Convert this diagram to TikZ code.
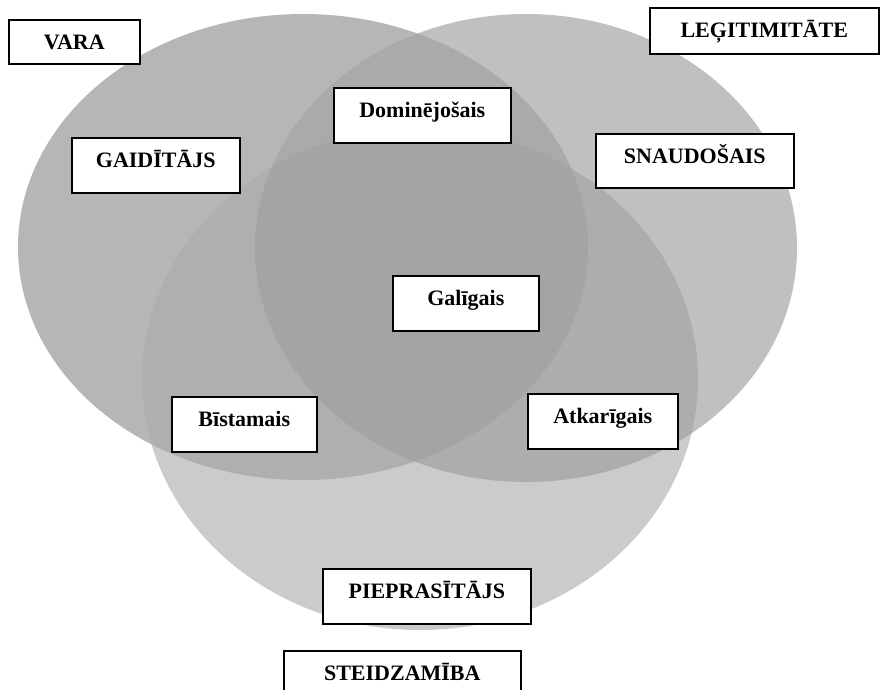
\documentclass[tikz,border=0pt]{standalone}
\usepackage{fontspec}
\setmainfont{Liberation Serif}
\definecolor{cA}{RGB}{182,182,182}
\definecolor{cB}{RGB}{192,192,192}
\definecolor{cC}{RGB}{203,203,203}
\definecolor{cAB}{RGB}{170,170,170}
\definecolor{cAC}{RGB}{175,175,175}
\definecolor{cBC}{RGB}{173,173,173}
\definecolor{cABC}{RGB}{164,164,164}
\begin{document}
\begin{tikzpicture}[x=1pt,y=-1pt,
  lbl/.style={draw=black, line width=1.6pt, fill=white, inner sep=0pt, anchor=north west,
    text height=29.5pt, font=\bfseries\fontsize{22}{26}\selectfont}]
\useasboundingbox (0,0) rectangle (881,689);
\def\ellA{(303,247) ellipse [x radius=285pt, y radius=233pt]}
\def\ellB{(526,248) ellipse [x radius=271pt, y radius=234pt]}
\def\ellC{(420,379) ellipse [x radius=278pt, y radius=251pt]}
% single regions
\fill[cA] \ellA;
\fill[cB] \ellB;
\fill[cC] \ellC;
% pair overlaps
\begin{scope}\clip \ellA; \fill[cAB] \ellB; \end{scope}
\begin{scope}\clip \ellA; \fill[cAC] \ellC; \end{scope}
\begin{scope}\clip \ellB; \fill[cBC] \ellC; \end{scope}
% triple overlap
\begin{scope}\clip \ellA; \clip \ellB; \fill[cABC] \ellC; \end{scope}
% labels
\node[lbl, minimum width=131pt, text depth=14.5pt] (vara) at (8,19) {VARA};
\node[lbl, minimum width=229pt, text depth=16.5pt] (legit) at (649,7) {LEĢITIMITĀTE};
\node[lbl, minimum width=168pt, text depth=25.5pt] (gaid) at (71,137) {GAIDĪTĀJS};
\node[lbl, minimum width=198pt, text depth=24.5pt] (snaud) at (595,133) {SNAUDOŠAIS};
\node[lbl, minimum width=177pt, text depth=25.5pt] (domin) at (333,87) {Dominējošais};
\node[lbl, minimum width=146pt, text depth=25.5pt] (galig) at (392,275) {Galīgais};
\node[lbl, minimum width=145pt, text depth=25.5pt] (bist) at (171,396) {Bīstamais};
\node[lbl, minimum width=150pt, text depth=25.5pt] (atkar) at (527,393) {Atkarīgais};
\node[lbl, minimum width=208pt, text depth=25.5pt] (piepr) at (322,568) {PIEPRASĪTĀJS};
\node[lbl, minimum width=237pt, text depth=20.5pt] (steid) at (283,650) {STEIDZAMĪBA};
\end{tikzpicture}
\end{document}
